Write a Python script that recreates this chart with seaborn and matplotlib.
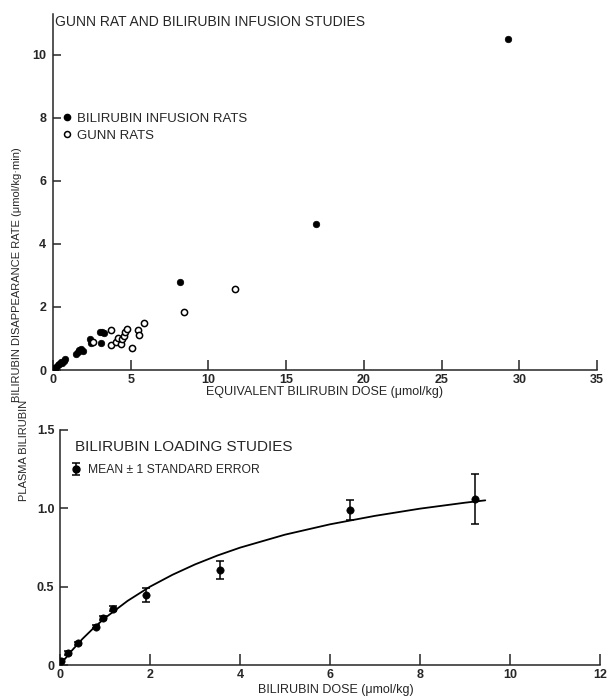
import matplotlib
matplotlib.use("Agg")
import matplotlib.pyplot as plt
from matplotlib.lines import Line2D
import seaborn as sns
import numpy as np

# ---------------- data ----------------
infusion_dose = [0.1, 0.2, 0.3, 0.4, 0.5, 0.6, 0.7, 0.75, 1.5, 1.6, 1.7, 1.8, 1.9,
                 2.4, 2.45, 3.05, 3.1, 3.25, 3.15, 8.2, 16.9, 29.3]
infusion_rate = [0.05, 0.1, 0.15, 0.2, 0.25, 0.22, 0.3, 0.35, 0.5, 0.57, 0.62, 0.67, 0.6,
                 0.98, 0.87, 1.22, 0.85, 1.19, 1.2, 2.78, 4.65, 10.5]

gunn_dose = [2.55, 3.75, 3.75, 4.05, 4.15, 4.35, 4.45, 4.55, 4.65, 4.75,
             5.1, 5.5, 5.55, 5.85, 8.45, 11.7]
gunn_rate = [0.9, 1.27, 0.78, 0.88, 1.02, 0.83, 0.97, 1.08, 1.2, 1.3,
             0.7, 1.27, 1.1, 1.48, 1.83, 2.58]

load_dose = [0.02, 0.18, 0.4, 0.79, 0.95, 1.17, 1.91, 3.55, 6.45, 9.22]
load_mean = [0.028, 0.079, 0.138, 0.245, 0.30, 0.36, 0.447, 0.606, 0.99, 1.06]
load_se = [0.01, 0.012, 0.012, 0.012, 0.012, 0.015, 0.046, 0.055, 0.065, 0.157]

curve_dose = [0, 0.25, 0.5, 0.75, 1.0, 1.5, 2.0, 2.5, 3.0, 3.5, 4.0, 5.0, 6.0, 7.0, 8.0, 9.0, 9.45]
curve_level = [0.0, 0.088, 0.167, 0.237, 0.300, 0.409, 0.500, 0.576, 0.642, 0.699,
               0.749, 0.832, 0.898, 0.952, 0.998, 1.036, 1.051]

top_xticks = [0, 5, 10, 15, 20, 25, 30, 35]
top_yticks = [0, 2, 4, 6, 8, 10]
bot_xticks = [0, 2, 4, 6, 8, 10, 12]
bot_yticks = [0, 0.5, 1.0, 1.5]
bot_yticklabels = ["0", "0.5", "1.0", "1.5"]

top_title = "GUNN RAT AND BILIRUBIN INFUSION STUDIES"
top_xlabel = "EQUIVALENT BILIRUBIN DOSE (\u03bcmol/kg)"
top_ylabel = "BILIRUBIN DISAPPEARANCE RATE (\u03bcmol/kg\u00b7min)"
legend_infusion = "BILIRUBIN INFUSION RATS"
legend_gunn = "GUNN RATS"
bot_title = "BILIRUBIN LOADING STUDIES"
bot_xlabel = "BILIRUBIN DOSE (\u03bcmol/kg)"
bot_ylabel = "PLASMA BILIRUBIN"
bot_legend = "MEAN \u00b1 1 STANDARD ERROR"

# ---------------- style ----------------
sns.set_style("ticks")
plt.rcParams['font.family'] = ['Liberation Sans', 'DejaVu Sans']
plt.rcParams['axes.linewidth'] = 1.1

W, H = 611, 698
fig = plt.figure(figsize=(W / 100, H / 100), dpi=100)


def rect(x0, y_top, x1, y_bot):
    return [x0 / W, 1 - y_bot / H, (x1 - x0) / W, (y_bot - y_top) / H]


def fx(x):
    return x / W


def fy(y):
    return 1 - y / H


# ---------------- top panel ----------------
ax1 = fig.add_axes(rect(53, 14, 597, 370))
sns.scatterplot(x=infusion_dose, y=infusion_rate, ax=ax1, color="black",
                edgecolor="black", s=22, linewidth=0.5, zorder=3)
sns.scatterplot(x=gunn_dose, y=gunn_rate, ax=ax1, marker="o", facecolor="white",
                edgecolor="black", s=20, linewidth=1.1, zorder=3)
ax1.set_xlim(0, 35)
ax1.set_ylim(0, 11.3)
ax1.set_xticks(top_xticks)
ax1.set_xticklabels([str(t) for t in top_xticks])
ax1.set_yticks(top_yticks)
ax1.set_yticklabels([str(t) for t in top_yticks])
sns.despine(ax=ax1)
ax1.tick_params(axis="x", direction="in", length=7, width=1.1, labelsize=9, pad=3)
ax1.tick_params(axis="y", direction="in", length=6, width=1.1, labelsize=9, pad=5)
for lab in ax1.get_xticklabels() + ax1.get_yticklabels():
    lab.set_fontweight("bold")
ax1.set_xlabel("")
ax1.set_ylabel("")

handles = [Line2D([], [], linestyle="none", marker="o", markersize=4.5,
                  markerfacecolor="black", markeredgecolor="black"),
           Line2D([], [], linestyle="none", marker="o", markersize=4.3,
                  markerfacecolor="white", markeredgecolor="black", markeredgewidth=1.1)]
ax1.legend(handles, [legend_infusion, legend_gunn], loc="upper left",
           bbox_to_anchor=(fx(56), fy(106)), bbox_transform=fig.transFigure,
           frameon=False, handlelength=0.6, handletextpad=0.5, borderpad=0,
           labelspacing=0.35, prop={"size": 9.5})

fig.text(fx(55), fy(22), top_title, fontsize=10, ha="left", va="center")
fig.text(fx(325), fy(392), top_xlabel, fontsize=9, ha="center", va="center")
fig.text(fx(17), fy(275), top_ylabel, fontsize=8, ha="center", va="center",
         rotation=90)

# ---------------- bottom panel ----------------
ax2 = fig.add_axes(rect(60, 430, 600, 665))
sns.lineplot(x=curve_dose, y=curve_level, ax=ax2, color="black", linewidth=1.3)
ax2.errorbar(load_dose, load_mean, yerr=load_se, fmt="none", ecolor="black",
             elinewidth=1.1, capsize=3, capthick=1.1, zorder=3)
sns.scatterplot(x=load_dose, y=load_mean, ax=ax2, color="black", edgecolor="black",
                s=28, zorder=4)
ax2.set_xlim(0, 12)
ax2.set_ylim(0, 1.5)
ax2.set_xticks(bot_xticks)
ax2.set_xticklabels([str(t) for t in bot_xticks])
ax2.set_yticks(bot_yticks)
ax2.set_yticklabels(bot_yticklabels)
sns.despine(ax=ax2)
ax2.tick_params(axis="x", direction="in", length=8, width=1.1, labelsize=9, pad=3)
ax2.tick_params(axis="y", direction="in", length=6, width=1.1, labelsize=9, pad=4)
for lab in ax2.get_xticklabels() + ax2.get_yticklabels():
    lab.set_fontweight("bold")
ax2.set_xlabel("")
ax2.set_ylabel("")

eb = ax2.errorbar([np.nan], [np.nan], yerr=[0.05], fmt="o", color="black",
                  markersize=5, elinewidth=1.1, capsize=3, capthick=1.1)
ax2.legend([eb], [bot_legend], loc="upper left",
           bbox_to_anchor=(fx(65), fy(458)), bbox_transform=fig.transFigure,
           frameon=False, handlelength=0.8, handletextpad=0.6, borderpad=0,
           prop={"size": 8.7})

fig.text(fx(75), fy(447), bot_title, fontsize=11, ha="left", va="center")
fig.text(fx(336), fy(690), bot_xlabel, fontsize=9, ha="center", va="center")
fig.text(fx(24), fy(450), bot_ylabel, fontsize=8, ha="center", va="center",
         rotation=90)

fig.savefig("out.png", dpi=100)
